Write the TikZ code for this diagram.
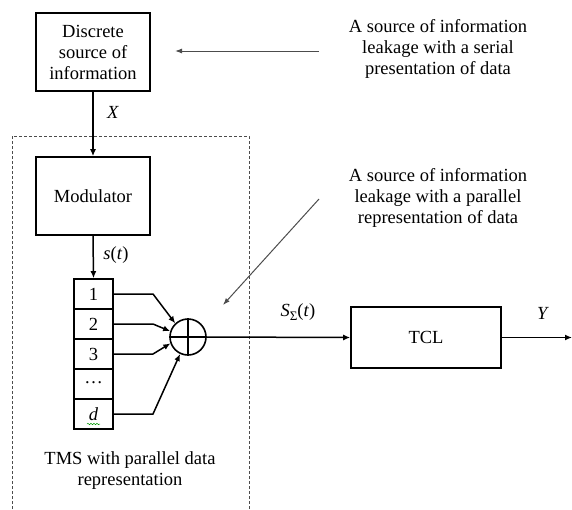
\documentclass[tikz,border=0pt]{standalone}
\usepackage{fontspec}
\setmainfont{LiberationSerif}[Extension=.ttf, UprightFont=*-Regular, ItalicFont=*-Italic, BoldFont=*-Bold, BoldItalicFont=*-BoldItalic]
\usetikzlibrary{arrows.meta,calc,decorations.pathmorphing}
\begin{document}
\begin{tikzpicture}[x=1pt,y=-1pt,
  every node/.style={font=\fontsize{18.5}{21}\selectfont, inner sep=0pt},
  blk/.style={draw, line width=1.6pt, align=center},
  cell/.style={draw, line width=1.6pt, minimum width=39pt, minimum height=30pt},
  arr/.style={line width=1.5pt, -{Latex[length=7pt,width=6pt]}},
  conn/.style={line width=1.6pt},
  leak/.style={line width=1pt, draw=black!70, -{Latex[length=7pt,width=5pt]}},
  dashbox/.style={draw=black!70, line width=0.9pt, dash pattern=on 3pt off 2pt},
  lbl/.style={align=center}]
\useasboundingbox (0,0) rectangle (572,509);

% dashed TMS frame
\draw[dashbox] (12,509) -- (12,136) -- (249,136) -- (249,509);

% blocks
\node[blk, minimum width=114pt, minimum height=78pt] (src) at (93,52) {Discrete\\source of\\information};
\node[blk, minimum width=114pt, minimum height=78pt] (mod) at (93,196) {Modulator};
\node[blk, minimum width=150pt, minimum height=61pt] (tcl) at (426,337.5) {TCL};

% register cells
\node[cell] (c1) at (93.5,294) {1};
\node[cell] (c2) at (93.5,324) {2};
\node[cell] (c3) at (93.5,354) {3};
\node[cell] (c4) at (93.5,384) {\raisebox{3pt}{\dots}};
\node[cell] (c5) at (93.5,414) {\textit{d}};
\draw[green!60!black, line width=0.5pt, decorate, decoration={snake, amplitude=0.7pt, segment length=3pt}] (87,424) -- (100,424);

% adder
\node[draw, circle, line width=1.6pt, minimum size=36pt] (sum) at (188,337) {};
\draw[conn] (sum.north) -- (sum.south);
\draw[conn] (sum.west) -- (sum.east);

% main connectors
\draw[arr] (src.south) -- (mod.north);
\draw[arr] (mod.south) -- (c1.north);
\coordinate (bx) at (153,0);
\draw[arr] (c1.east) -- (c1.east -| bx) -- (sum.133);
\draw[arr] (c2.east) -- (c2.east -| bx) -- (sum.162);
\draw[arr] (c3.east) -- (c3.east -| bx) -- (sum.200);
\draw[arr] (c5.east) -- (c5.east -| bx) -- (sum.245);
\draw[arr] (sum.east) -- (tcl.west);
\coordinate (out) at (572,337.5);
\draw[arr] (tcl.east) -- (out);

% signal labels
\node (lx) at (113,112) {\textit{X}};
\node (ls) at (116,255) {\textit{s}(\textit{t})};
\node (lsum) at (298,312) {\textit{S}\raisebox{-4pt}{\fontsize{13}{13}\selectfont Σ}(\textit{t})};
\node (ly) at (543,313) {\textit{Y}};

% leakage sources
\node[lbl] (lk1) at (438,49) {A source of information\\leakage with a serial\\presentation of data};
\node[lbl] (lk2) at (438,198) {A source of information\\leakage with a parallel\\representation of data};
\coordinate (a1s) at (319,51);
\coordinate (a1e) at (175,51);
\coordinate (a2s) at (319,199);
\coordinate (a2e) at (223,305);
\draw[leak] (a1s) -- (a1e);
\draw[leak] (a2s) -- (a2e);

% TMS caption
\node[lbl] (tms) at (130,471) {TMS with parallel data\\representation};
\end{tikzpicture}
\end{document}
